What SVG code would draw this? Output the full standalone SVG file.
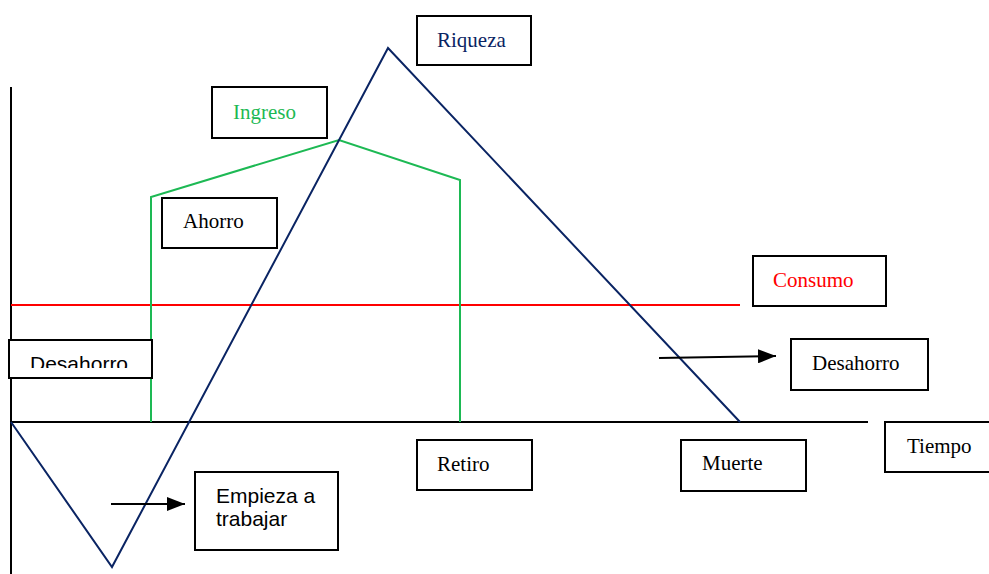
<svg xmlns="http://www.w3.org/2000/svg" width="989" height="574" viewBox="0 0 989 574">
<defs>
<style>
.box{fill:#fff;stroke:#000;stroke-width:2}
.serif{font-family:"Liberation Serif","Times New Roman",serif;font-size:21px}
.sans{font-family:"Liberation Sans",Arial,sans-serif;font-size:21px}
.axis{stroke:#000;stroke-width:2;fill:none}
.navy{stroke:#0a2463;stroke-width:2;fill:none}
.green{stroke:#1db954;stroke-width:2;fill:none}
.red{stroke:#ff0000;stroke-width:2;fill:none}
.arrow{stroke:#000;stroke-width:2;fill:none;marker-end:url(#ah)}
</style>
<marker id="ah" markerWidth="9" markerHeight="7" refX="9" refY="3.5" orient="auto" markerUnits="strokeWidth">
<path d="M0,0 L9,3.5 L0,7 Z" fill="#000"/>
</marker>
<clipPath id="clipDes"><rect x="9" y="340" width="143" height="28"/></clipPath>
</defs>
<rect width="989" height="574" fill="#fff"/>
<g id="connectors">
<line class="axis" x1="11" y1="87" x2="11" y2="574"/>
<line class="axis" x1="11" y1="422" x2="868" y2="422"/>
<line class="red" x1="11" y1="305" x2="740" y2="305"/>
<polyline class="green" points="151,422 151,197 339,140 460,180 460,422"/>
<polyline class="navy" points="11,422 112,567 388,48 740,422"/>
<line class="arrow" x1="659" y1="358" x2="776" y2="356"/>
<line class="arrow" x1="111" y1="504" x2="185" y2="504"/>
</g>
<g id="riqueza"><rect class="box" x="417" y="16" width="114" height="49"/><text class="serif" x="437" y="47" fill="#0a2463">Riqueza</text></g>
<g id="ingreso"><rect class="box" x="212" y="87" width="115" height="51"/><text class="serif" x="233" y="119" fill="#1db954">Ingreso</text></g>
<g id="ahorro"><rect class="box" x="162" y="198" width="115" height="50"/><text class="serif" x="183" y="228" fill="#000">Ahorro</text></g>
<g id="consumo"><rect class="box" x="753" y="256" width="133" height="50"/><text class="serif" x="773" y="287" fill="#ff0000">Consumo</text></g>
<g id="desahorro-left"><rect class="box" x="9" y="340" width="143" height="38"/><text class="sans" x="30" y="371" fill="#000" clip-path="url(#clipDes)">Desahorro</text></g>
<g id="desahorro-right"><rect class="box" x="791" y="339" width="137" height="51"/><text class="serif" x="812" y="370" fill="#000">Desahorro</text></g>
<g id="retiro"><rect class="box" x="417" y="440" width="115" height="50"/><text class="serif" x="437" y="471" fill="#000">Retiro</text></g>
<g id="muerte"><rect class="box" x="681" y="440" width="125" height="51"/><text class="serif" x="702" y="470" fill="#000">Muerte</text></g>
<g id="tiempo"><rect class="box" x="885" y="422" width="110" height="50"/><text class="serif" x="907" y="453" fill="#000">Tiempo</text></g>
<g id="empieza"><rect class="box" x="195" y="472" width="143" height="78"/><text class="sans" fill="#000"><tspan x="216" y="503">Empieza a</tspan><tspan x="216" y="526">trabajar</tspan></text></g>
</svg>
